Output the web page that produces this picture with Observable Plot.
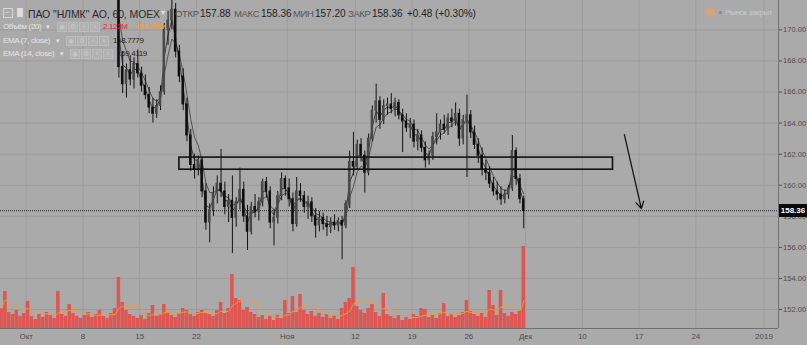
<!DOCTYPE html>
<html><head><meta charset="utf-8">
<script src="https://cdn.jsdelivr.net/npm/d3@7"></script>
<script src="https://cdn.jsdelivr.net/npm/@observablehq/plot@0.6"></script>
<style>
html,body{margin:0;padding:0;background:#aaaaaa;}
#wrap{position:relative;width:807px;height:345px;overflow:hidden;background:#aaaaaa;font-family:"Liberation Sans",Arial,sans-serif;}
#wrap svg{position:absolute;left:0;top:0;}
.t{position:absolute;white-space:nowrap;line-height:1;}
.ic{position:absolute;width:8px;height:8px;border:1px solid #bcbcbc;background:#b2b2b2;color:#c8c8c8;font-size:7px;line-height:8px;text-align:center;}
</style></head><body><div id="wrap"></div>
<script>
// ---- axis ticks (x in trading-day index, Oct 1 2018 = 0) ----
const tickPos = [0,5,10,15,23,29,34,39,44,49,54,59,65];
const tickLabels = ["Окт","8","15","22","Ноя","12","19","26","Дек","10","17","24","2019"];
const priceTicks = [152,154,156,158,160,162,164,166,168,170];

// ---- bars: 3 bars per trading day, first bar starts at day -7/3 ----
const firstBarDay = -7/3;
const barsPerDay = 3;
const hoursPerBar = 3;
const priceStartBar = 31;

const open = [172.6,167.6,166.5,167.4,166.8,167.8,167.2,166.4,165.8,165.0,
164.6,165.1,166.0,170.0,170.6,171.3,168.6,167.0,165.2,163.2,
161.3,161.0,161.6,159.6,157.6,158.4,159.5,160.1,159.6,158.6,
159.0,157.9,158.9,159.7,158.0,157.0,158.6,158.3,158.9,160.2,
159.6,157.6,157.9,159.3,160.4,159.8,159.1,157.5,159.6,159.3,
158.6,158.9,158.0,157.4,157.9,157.5,157.3,157.6,157.4,157.7,
157.4,158.8,161.5,161.2,162.6,161.9,160.8,163.0,164.8,165.4,
164.2,165.1,165.2,164.9,165.3,164.5,164.1,163.7,163.9,162.8,
163.2,162.4,161.6,161.9,163.1,163.4,163.9,163.6,164.3,164.1,
164.6,163.0,164.2,164.5,163.4,162.6,161.9,161.0,160.8,160.1,
159.6,159.4,159.1,159.4,159.8,162.2,160.4,159.1];
const high = [173.0,168.6,167.8,168.3,168.2,168.7,167.6,167.1,166.3,165.6,
165.5,166.4,170.4,171.2,172.3,171.7,169.0,167.5,165.6,163.6,
162.0,161.9,161.8,160.1,158.8,159.9,160.6,162.3,160.2,159.4,
160.6,159.2,161.1,160.2,158.7,158.9,159.4,159.2,160.4,160.5,
159.9,158.4,159.6,160.8,160.6,160.4,159.5,160.5,160.1,159.6,
159.3,159.2,158.5,158.3,158.2,158.0,157.9,158.1,157.9,158.0,
159.0,162.2,163.4,162.9,163.0,162.2,163.3,165.1,166.5,165.7,
165.5,165.6,165.9,165.6,165.5,164.9,164.6,164.3,164.2,163.6,
163.5,162.8,162.2,163.4,164.6,164.2,164.5,164.6,164.9,165.3,
164.9,164.5,165.8,164.8,163.8,163.0,162.4,161.6,161.2,160.5,
160.2,159.9,159.7,160.0,163.2,162.4,160.7,159.3];
const low = [166.9,165.9,165.6,166.4,166.2,166.9,166.0,165.5,164.6,164.0,
164.3,164.8,165.8,169.0,170.0,168.2,166.6,164.8,162.8,160.9,
160.4,160.6,159.2,157.1,156.3,158.0,158.8,159.2,158.1,157.6,
155.6,157.3,158.4,157.6,155.8,156.8,157.9,157.7,158.6,159.2,
157.2,156.1,157.5,159.0,159.3,158.6,157.0,157.3,158.9,158.2,
157.8,157.6,156.6,157.0,157.1,156.7,156.9,157.1,157.0,155.2,
157.2,158.5,160.6,161.0,161.5,159.5,160.6,162.8,164.0,163.6,
163.9,164.5,164.6,164.4,164.2,162.1,163.4,163.0,162.4,162.2,
162.1,161.1,161.3,161.6,162.6,162.9,163.3,163.2,163.7,163.8,
162.5,162.6,160.5,163.0,162.3,161.4,160.6,160.3,159.8,159.3,
159.0,158.7,158.8,159.1,159.6,160.0,158.8,157.2];
const close = [167.6,166.5,167.4,166.8,167.8,167.2,166.4,165.8,165.0,164.6,
165.1,166.0,170.0,170.6,171.3,168.6,167.0,165.2,163.2,161.3,
161.0,161.6,159.6,157.6,158.4,159.5,160.1,159.6,158.6,159.0,
157.9,158.9,159.7,158.0,157.0,158.6,158.3,158.9,160.2,159.6,
157.6,157.9,159.3,160.4,159.8,159.1,157.5,159.6,159.3,158.6,
158.9,158.0,157.4,157.9,157.5,157.3,157.6,157.4,157.7,157.4,
158.8,161.5,161.2,162.6,161.9,160.8,163.0,164.8,165.4,164.2,
165.1,165.2,164.9,165.3,164.5,164.1,163.7,163.9,162.8,163.2,
162.4,161.6,161.9,163.1,163.4,163.9,163.6,164.3,164.1,164.6,
163.0,164.2,164.5,163.4,162.6,161.9,161.0,160.8,160.1,159.6,
159.4,159.1,159.4,159.8,162.2,160.4,159.1,158.36];

// volume, thousands of shares
const volumeK = [518,958,414,362,466,311,388,699,311,233,
362,285,414,336,259,958,362,311,621,388,
311,259,336,414,285,362,466,311,259,388,
518,1320,673,466,362,311,259,336,233,388,
595,311,362,621,414,336,285,388,518,466,
362,311,414,466,388,362,311,466,673,388,
518,1397,776,725,466,543,414,362,285,336,
233,311,207,336,259,725,388,828,414,880,
466,362,440,311,388,285,362,259,336,233,
518,673,776,1579,569,466,388,518,621,414,
311,906,362,311,259,336,207,285,233,362,
311,518,492,285,336,259,388,647,311,362,
285,336,414,725,440,362,311,388,285,983,
595,336,983,388,311,414,362,466,2122];

// annotations drawn on the chart (data units)
const zoneDays = [13.5, 51.7];
const zonePrice = [161.0, 161.78];
const arrowDays = [52.7, 54.2];
const arrowPrice = [163.26, 158.5];
const lastClose = 158.36;

// ---- build tables ----
const barT = j => firstBarDay + (j + 0.5) / barsPerDay;
const bars = close.map((c, i) => ({t: barT(i + priceStartBar), o: open[i], h: high[i], l: low[i], c}));
function ema(vals, len, seed) {
  const a = 2 / (len / hoursPerBar + 1);
  let e = seed;
  return vals.map(v => (e = a * v + (1 - a) * e));
}
const e7 = ema(close, 7, open[0]);
const e14 = ema(close, 14, open[0]);
const emaRows = bars.map((b, i) => ({t: b.t, e7: e7[i], e14: e14[i]}));
const maWin = Math.round(20 / hoursPerBar);
const vol = volumeK.map((v, i) => {
  const s = volumeK.slice(Math.max(0, i - maWin + 1), i + 1);
  return {t: barT(i), v, ma: d3.mean(s)};
});
const labelMap = new Map(tickPos.map((p, i) => [p, tickLabels[i]]));

// ---- layout ----
const W = 807, H = 345;
const common = {width: W, height: H, marginLeft: 0, marginRight: 29, marginTop: 0, marginBottom: 17};
const xS = {domain: [-2.264, 66.28]};
const yS = {domain: [150.78, 171.89]};
const sty = {background: "transparent", fontFamily: "'Liberation Sans', Arial, sans-serif", color: "#4d4d4d", overflow: "visible"};
const wrap = document.getElementById("wrap");

// layer 0: grid
const grid = Plot.plot({...common, x: xS, y: yS, style: sty, axis: null, marks: [
  Plot.gridX(tickPos, {stroke: "#9c9c9c", strokeOpacity: 1}),
  Plot.gridY(priceTicks, {stroke: "#9c9c9c", strokeOpacity: 1})
]});
wrap.appendChild(grid);

// layer 1: volume
const volPlot = Plot.plot({...common, x: xS, y: {domain: [0, 8488]}, style: sty, axis: null, marks: [
  Plot.rect(vol, {x1: d => d.t - 0.155, x2: d => d.t + 0.155, y1: 0, y2: "v", fill: "#df5551"}),
  Plot.line(vol, {x: "t", y: "ma", stroke: "#f39a35", strokeWidth: 1, curve: "monotone-x"})
]});
wrap.appendChild(volPlot);

// layer 2: price
const pricePlot = Plot.plot({...common, x: xS, y: yS, style: sty, marks: [
  Plot.ruleY([lastClose], {stroke: "#3c3c3c", strokeWidth: 1.3, strokeDasharray: "1,1"}),
  Plot.line(emaRows, {x: "t", y: "e14", stroke: "#3a3a3a", strokeWidth: 0.8, clip: true}),
  Plot.line(emaRows, {x: "t", y: "e7", stroke: "#262626", strokeWidth: 0.8, clip: true}),
  Plot.ruleX(bars, {x: "t", y1: "l", y2: "h", stroke: "#141414", strokeWidth: 1, clip: true}),
  Plot.rect(bars, {x1: d => d.t - 0.11, x2: d => d.t + 0.11, y1: d => Math.min(d.o, d.c) - 0.03, y2: d => Math.max(d.o, d.c) + 0.03,
    fill: d => d.c >= d.o ? "#4a4a4a" : "#0e0e0e", clip: true}),
  Plot.rect([0], {x1: () => zoneDays[0], x2: () => zoneDays[1], y1: () => zonePrice[0], y2: () => zonePrice[1], fill: "none", stroke: "#111", strokeWidth: 1.6}),
  Plot.arrow([0], {x1: () => arrowDays[0], x2: () => arrowDays[1], y1: () => arrowPrice[0], y2: () => arrowPrice[1], bend: 0, stroke: "#151515", strokeWidth: 1.3, headLength: 9}),
  Plot.ruleX([xS.domain[1]], {stroke: "#707070", strokeWidth: 1}),
  Plot.ruleY([yS.domain[0]], {stroke: "#707070", strokeWidth: 1}),
  Plot.axisY(priceTicks, {anchor: "right", tickSize: 3, tickPadding: 1.5, tickFormat: d => d.toFixed(2), fontSize: 7.6, label: null}),
  Plot.axisX(tickPos, {anchor: "bottom", tickSize: 0, tickPadding: 5, tickFormat: d => labelMap.get(d), fontSize: 8, label: null})
]});
wrap.appendChild(pricePlot);

// price tag on the right axis (partly covers the 158.00 label, as in TradingView)
const yTag = pricePlot.scale("y").apply(lastClose);
const tag = document.createElement("div");
tag.className = "t";
Object.assign(tag.style, {left: "779px", top: (yTag - 6.5) + "px", width: "28px", height: "13px", background: "#0a0a0a", color: "#fff",
  fontSize: "8px", fontWeight: "bold", lineHeight: "13px", textAlign: "center"});
tag.textContent = lastClose.toFixed(2);
wrap.appendChild(tag);

// ---- legend text ----
function txt(s, x, y, size, color, extra) {
  const d = document.createElement("div");
  d.className = "t";
  Object.assign(d.style, {left: x + "px", top: y + "px", fontSize: size + "px", color}, extra || {});
  d.textContent = s;
  wrap.appendChild(d);
  return d;
}
function icon(x, y, g) {
  const d = document.createElement("div");
  d.className = "ic";
  Object.assign(d.style, {left: x + "px", top: y + "px"});
  d.textContent = g;
  wrap.appendChild(d);
}
const narrow = {letterSpacing: "-0.35px"};
// row 1
const box = document.createElement("div");
Object.assign(box.style, {position: "absolute", left: "3px", top: "8px", width: "8px", height: "8px", border: "1px solid #d8d8d8"});
wrap.appendChild(box);
txt("−", 4.5, 8, 9, "#e0e0e0");
const flag = document.createElement("div");
Object.assign(flag.style, {position: "absolute", left: "17px", top: "8px", width: "6px", height: "9px", background: "#dcdcdc"});
wrap.appendChild(flag);
txt("ПАО \"НЛМК\" АО, 60, MOEX", 28, 8.5, 10.5, "#2b2b2b", {letterSpacing: "-0.1px"});
txt("▾", 161, 9, 8, "#e6e6e6");
txt("ОТКР", 175, 9, 9.5, "#555", narrow);
txt("157.88", 200, 8.5, 10, "#222");
txt("МАКС", 234, 9, 9.5, "#555", narrow);
txt("158.36", 261, 8.5, 10, "#222");
txt("МИН", 293, 9, 9.5, "#555", narrow);
txt("157.20", 315, 8.5, 10, "#222");
txt("ЗАКР", 348, 9, 9.5, "#555", narrow);
txt("158.36", 372, 8.5, 10, "#222");
txt("+0.48 (+0.30%)", 407, 8.5, 10, "#222");
// row 2
txt("Объём (20)", 3, 23, 8, "#e4e4e4", narrow);
txt("▾", 46, 23, 7, "#e4e4e4");
icon(57, 22, "◉"); icon(68, 22, "⚙"); icon(79, 22, "+"); icon(90, 22, "×");
txt("2.122M", 103, 23, 8, "#d83030", narrow);
txt("451.799K", 135, 23, 8, "#f0a030", narrow);
// row 3
txt("EMA (7, close)", 3, 36.5, 8, "#e4e4e4", narrow);
txt("▾", 56, 36.5, 7, "#e4e4e4");
icon(66, 35.5, "◉"); icon(77, 35.5, "⚙"); icon(88, 35.5, "+"); icon(99, 35.5, "×");
txt("158.7779", 113, 36.5, 8, "#1e1e1e", narrow);
// row 4
txt("EMA (14, close)", 3, 50, 8, "#e4e4e4", narrow);
txt("▾", 60, 50, 7, "#e4e4e4");
icon(70, 49, "◉"); icon(81, 49, "⚙"); icon(92, 49, "+"); icon(103, 49, "×");
txt("159.4119", 117, 50, 8, "#1e1e1e", narrow);
// market status
const dot = document.createElement("div");
Object.assign(dot.style, {position: "absolute", left: "706px", top: "8px", width: "9px", height: "9px", borderRadius: "50%", background: "#d9a27a"});
wrap.appendChild(dot);
const dot2 = document.createElement("div");
Object.assign(dot2.style, {position: "absolute", left: "719px", top: "11px", width: "3px", height: "3px", borderRadius: "50%", background: "#8a8a8a"});
wrap.appendChild(dot2);
txt("Рынок закрыт", 725, 9, 8, "#c9c9c9", narrow);
</script></body></html>
